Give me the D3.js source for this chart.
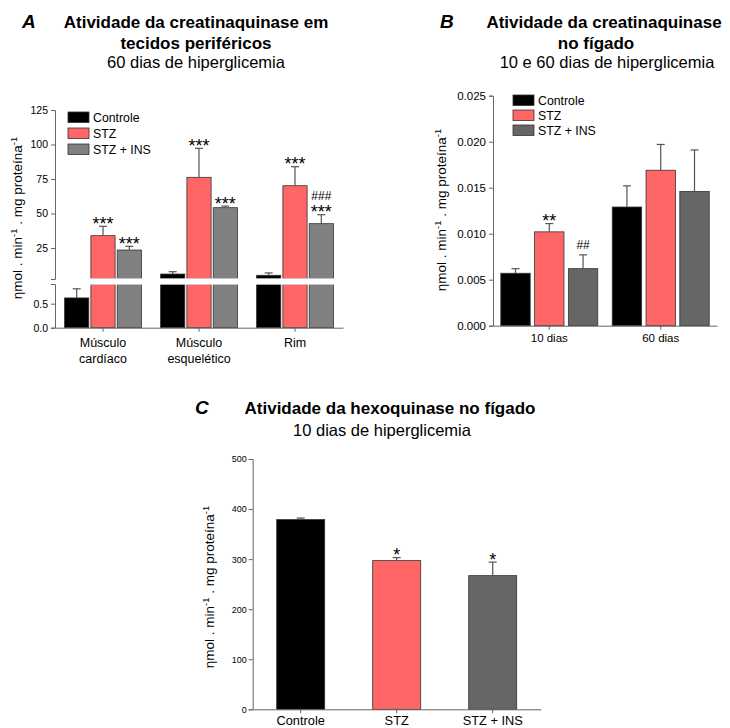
<!DOCTYPE html>
<html>
<head>
<meta charset="utf-8">
<script src="https://cdn.jsdelivr.net/npm/d3@7"></script>
<style>
body { margin: 0; background: #fff; }
text { font-family: Arial, "Liberation Sans", sans-serif; }
</style>
</head>
<body>
<div id="chart"></div>
<script>
// ---- data ----
var groups = ["Controle", "STZ", "STZ + INS"];

// panel A: tecidos periféricos, 60 dias
var tissuesA = [["Músculo", "cardíaco"], ["Músculo", "esquelético"], ["Rim"]];
var meanA = [[0.62, 33.9, 23.5], [6.1, 76.2, 54.2], [5.2, 70.1, 42.6]];
var semA  = [[0.19, 6.8, 2.7], [1.7, 21.0, 1.2], [1.7, 13.8, 6.5]];
var starsA = [["", "***", "***"], ["", "***", "***"], ["", "***", "***"]];
var hashA  = [["", "", ""], ["", "", ""], ["", "", "###"]];
var ticksAUp = [25, 50, 75, 100, 125];
var ticksALow = [0, 0.5];

// panel B: fígado, 10 e 60 dias
var daysB = ["10 dias", "60 dias"];
var meanB = [[0.0057, 0.0102, 0.0062], [0.0129, 0.0169, 0.0146]];
var semB  = [[0.0005, 0.0009, 0.0015], [0.0023, 0.0028, 0.0045]];
var starsB = [["", "**", ""], ["", "", ""]];
var hashB  = [["", "", "##"], ["", "", ""]];
var ticksB = [0, 0.005, 0.010, 0.015, 0.020, 0.025];

// panel C: hexoquinase, 10 dias
var meanC = [379, 297, 267];
var semC  = [3, 6, 27];
var starsC = ["", "*", "*"];
var ticksC = [0, 100, 200, 300, 400, 500];

var colorsA = ["#000000", "#ff6666", "#808080"];
var colorsBC = ["#000000", "#ff6666", "#666666"];

var svg = d3.select("#chart").append("svg")
    .attr("width", 730)
    .attr("height", 728);

var axisColor = "#666";
var barStroke = "#333";
var errColor = "#555";

function styleAxis(g, size) {
    g.attr("font-family", "Arial, 'Liberation Sans', sans-serif")
        .attr("font-size", size);
    g.selectAll("path, line").attr("stroke", axisColor);
    g.selectAll("text").attr("fill", "#000");
}

function yLabel(x, y, size) {
    var t = svg.append("text")
        .attr("transform", "translate(" + x + "," + y + ") rotate(-90)")
        .attr("text-anchor", "middle")
        .attr("font-size", size);
    t.append("tspan").text("ηmol . min");
    t.append("tspan").attr("dy", -size * 0.4).attr("font-size", size * 0.7).text("-1");
    t.append("tspan").attr("dy", size * 0.4).text(" . mg proteína");
    t.append("tspan").attr("dy", -size * 0.4).attr("font-size", size * 0.7).text("-1");
}

function title(letter, lx, lines, ys) {
    svg.append("text")
        .attr("x", lx).attr("y", ys[0])
        .attr("font-size", 19).attr("font-weight", "bold").attr("font-style", "italic")
        .text(letter);
    lines.forEach(function (l, k) {
        svg.append("text")
            .attr("x", l.x).attr("y", ys[k])
            .attr("text-anchor", "middle")
            .attr("font-size", l.bold ? 17 : 16.5)
            .attr("font-weight", l.bold ? "bold" : "normal")
            .text(l.t);
    });
}

function legend(x, y, step, colors) {
    groups.forEach(function (g, j) {
        svg.append("rect")
            .attr("x", x).attr("y", y + j * step)
            .attr("width", 21).attr("height", 10.5)
            .attr("fill", colors[j]).attr("stroke", barStroke).attr("stroke-width", 0.8);
        svg.append("text")
            .attr("x", x + 25).attr("y", y + j * step + 10)
            .attr("font-size", 12.3)
            .text(g);
    });
}

function errBar(cx, y0, y1) {
    svg.append("line").attr("x1", cx).attr("x2", cx).attr("y1", y0).attr("y2", y1)
        .attr("stroke", errColor).attr("stroke-width", 1.2);
    svg.append("line").attr("x1", cx - 4).attr("x2", cx + 4).attr("y1", y1).attr("y2", y1)
        .attr("stroke", errColor).attr("stroke-width", 1.2);
}

function marks(cx, top, stars, hash) {
    if (stars) {
        svg.append("text").attr("x", cx).attr("y", top + 3.7)
            .attr("text-anchor", "middle").attr("font-size", 18).text(stars);
    }
    if (hash) {
        svg.append("text").attr("x", cx).attr("y", stars ? top - 15 : top - 5.5)
            .attr("text-anchor", "middle").attr("font-size", 12).text(hash);
    }
}

// ================= Panel A =================
title("A", 22, [
    { t: "Atividade da creatinaquinase em", x: 196, bold: true },
    { t: "tecidos periféricos", x: 196, bold: true },
    { t: "60 dias de hiperglicemia", x: 196, bold: false }
], [28.3, 48.5, 67.7]);

var xA0 = d3.scaleBand().domain(d3.range(tissuesA.length)).range([55, 343])
    .paddingInner(0.2).paddingOuter(0.1);
var xA1 = d3.scaleBand().domain(groups).range([0, xA0.bandwidth()]).paddingInner(0.08);
var lowMax = 0.91, upMin = 2.5;
var yAUp = d3.scaleLinear().domain([upMin, 125]).range([279, 110]);
var yALow = d3.scaleLinear().domain([0, lowMax]).range([327.7, 284]);

var rowsA = [];
meanA.forEach(function (r, i) {
    r.forEach(function (v, j) {
        rowsA.push({ i: i, j: j, v: v, e: semA[i][j], s: starsA[i][j], h: hashA[i][j] });
    });
});

// lower segment
svg.append("g").selectAll("rect").data(rowsA).join("rect")
    .attr("x", function (d) { return xA0(d.i) + xA1(groups[d.j]); })
    .attr("width", xA1.bandwidth())
    .attr("y", function (d) { return yALow(Math.min(d.v, lowMax)); })
    .attr("height", function (d) { return yALow(0) - yALow(Math.min(d.v, lowMax)); })
    .attr("fill", function (d) { return colorsA[d.j]; })
    .attr("stroke", barStroke).attr("stroke-width", 0.8);

// upper segment
svg.append("g").selectAll("rect").data(rowsA.filter(function (d) { return d.v > upMin; })).join("rect")
    .attr("x", function (d) { return xA0(d.i) + xA1(groups[d.j]); })
    .attr("width", xA1.bandwidth())
    .attr("y", function (d) { return yAUp(d.v); })
    .attr("height", function (d) { return yAUp(upMin) - yAUp(d.v); })
    .attr("fill", function (d) { return colorsA[d.j]; })
    .attr("stroke", barStroke).attr("stroke-width", 0.8);

// axis break gap
svg.append("rect")
    .attr("x", xA0.range()[0] + 1).attr("width", xA0.range()[1] - xA0.range()[0])
    .attr("y", yAUp.range()[0] - 0.6).attr("height", yALow.range()[1] - yAUp.range()[0] + 1.2)
    .attr("fill", "#fff");

rowsA.forEach(function (d) {
    var ys = d.v <= lowMax ? yALow : yAUp;
    var cx = xA0(d.i) + xA1(groups[d.j]) + xA1.bandwidth() / 2;
    errBar(cx, ys(d.v), ys(d.v + d.e));
    marks(cx, ys(d.v + d.e), d.s, d.h);
});

svg.append("g").attr("transform", "translate(55,0)")
    .call(d3.axisLeft(yAUp).tickValues(ticksAUp).tickSize(4).tickSizeOuter(4))
    .call(styleAxis, 10.5);
svg.append("g").attr("transform", "translate(55,0)")
    .call(d3.axisLeft(yALow).tickValues(ticksALow).tickFormat(d3.format(".1f")).tickSize(4).tickSizeOuter(4))
    .call(styleAxis, 10.5);
svg.append("g").attr("transform", "translate(0," + yALow(0) + ")")
    .call(d3.axisBottom(xA0).tickSize(4).tickSizeOuter(0).tickFormat(""))
    .call(styleAxis, 12);

tissuesA.forEach(function (lines, i) {
    lines.forEach(function (l, k) {
        svg.append("text")
            .attr("x", xA0(i) + xA0.bandwidth() / 2).attr("y", 347 + k * 15.5)
            .attr("text-anchor", "middle").attr("font-size", 12.5)
            .text(l);
    });
});

legend(68, 112, 16, colorsA);
yLabel(22, 218, 13.5);

// ================= Panel B =================
title("B", 440, [
    { t: "Atividade da creatinaquinase", x: 604, bold: true },
    { t: "no fígado", x: 596, bold: true },
    { t: "10 e 60 dias de hiperglicemia", x: 607, bold: false }
], [28.3, 48.5, 67.7]);

var xB0 = d3.scaleBand().domain(daysB).range([493, 717]).paddingInner(0.13).paddingOuter(0.07);
var xB1 = d3.scaleBand().domain(groups).range([0, xB0.bandwidth()]).paddingInner(0.13);
var yB = d3.scaleLinear().domain([0, 0.025]).range([325.7, 95.7]);

var rowsB = [];
meanB.forEach(function (r, i) {
    r.forEach(function (v, j) {
        rowsB.push({ d: daysB[i], j: j, v: v, e: semB[i][j], s: starsB[i][j], h: hashB[i][j] });
    });
});

svg.append("g").selectAll("rect").data(rowsB).join("rect")
    .attr("x", function (d) { return xB0(d.d) + xB1(groups[d.j]); })
    .attr("width", xB1.bandwidth())
    .attr("y", function (d) { return yB(d.v); })
    .attr("height", function (d) { return yB(0) - yB(d.v); })
    .attr("fill", function (d) { return colorsBC[d.j]; })
    .attr("stroke", barStroke).attr("stroke-width", 0.8);

rowsB.forEach(function (d) {
    var cx = xB0(d.d) + xB1(groups[d.j]) + xB1.bandwidth() / 2;
    errBar(cx, yB(d.v), yB(d.v + d.e));
    marks(cx, yB(d.v + d.e), d.s, d.h);
});

svg.append("g").attr("transform", "translate(493,0)")
    .call(d3.axisLeft(yB).tickValues(ticksB).tickFormat(d3.format(".3f")).tickSize(4).tickSizeOuter(4))
    .call(styleAxis, 11.5);
svg.append("g").attr("transform", "translate(0," + yB(0) + ")")
    .call(d3.axisBottom(xB0).tickSize(4).tickSizeOuter(0).tickPadding(4))
    .call(styleAxis, 11.5);

legend(513, 95, 15, colorsBC);
yLabel(446, 210, 13.5);

// ================= Panel C =================
title("C", 195, [
    { t: "Atividade da hexoquinase no fígado", x: 390, bold: true },
    { t: "10 dias de hiperglicemia", x: 382, bold: false }
], [413.5, 435.7]);

var xC = d3.scaleBand().domain(groups).range([252.7, 540.7]).paddingInner(0.5).paddingOuter(0.25);
var yC = d3.scaleLinear().domain([0, 500]).range([709.3, 459]);

svg.append("g").selectAll("rect").data(groups).join("rect")
    .attr("x", function (g) { return xC(g); })
    .attr("width", xC.bandwidth())
    .attr("y", function (g, j) { return yC(meanC[j]); })
    .attr("height", function (g, j) { return yC(0) - yC(meanC[j]); })
    .attr("fill", function (g, j) { return colorsBC[j]; })
    .attr("stroke", barStroke).attr("stroke-width", 0.8);

groups.forEach(function (g, j) {
    var cx = xC(g) + xC.bandwidth() / 2;
    errBar(cx, yC(meanC[j]), yC(meanC[j] + semC[j]));
    marks(cx, yC(meanC[j] + semC[j]), starsC[j], "");
});

svg.append("g").attr("transform", "translate(252.7,0)")
    .call(d3.axisLeft(yC).tickValues(ticksC).tickSize(4).tickSizeOuter(4).tickPadding(2))
    .call(styleAxis, 9);
svg.append("g").attr("transform", "translate(0," + yC(0) + ")")
    .call(d3.axisBottom(xC).tickSize(4).tickSizeOuter(0).tickPadding(3))
    .call(styleAxis, 12.8);

yLabel(214, 587, 13.5);
</script>
</body>
</html>
